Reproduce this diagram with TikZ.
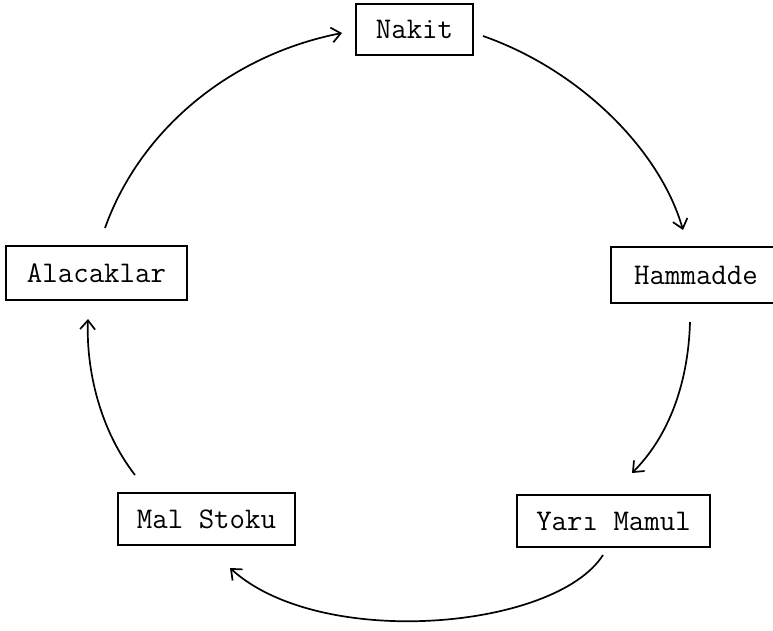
\documentclass[tikz,border=0pt]{standalone}
\usetikzlibrary{arrows.meta}
\tikzset{
  box/.style={draw, line width=1.8pt, rectangle, inner sep=0pt,
    font=\ttfamily\fontsize{30}{34}\selectfont},
  flow/.style={line width=1.7pt, -{Straight Barb[length=9pt,width=15pt,line width=1.7pt]}}
}
\begin{document}
\begin{tikzpicture}[x=1pt,y=-1pt]
\useasboundingbox[fill=white] (0,0) rectangle (773,631);
\node[box, minimum width=117pt, minimum height=51pt] (nakit) at (414.5,29.5) {Nakit};
\node[box, draw=none, minimum width=184pt, minimum height=54pt] (ham) at (704,275) {\hspace*{-16pt}Hammadde};
\draw[line width=1.8pt] (ham.north east) -- (ham.north west) -- (ham.south west) -- (ham.south east);
\node[box, minimum width=181pt, minimum height=54pt] (alac) at (96.5,273) {Alacaklar};
\node[box, minimum width=177pt, minimum height=52pt] (mal) at (206.5,519) {Mal Stoku};
\node[box, minimum width=193pt, minimum height=52pt] (yari) at (613.5,521) {Yarı Mamul};
% connector end points
\coordinate (a1) at (105,228);  \coordinate (a2) at (342,33);
\coordinate (b1) at (483,36);   \coordinate (b2) at (683,230);
\coordinate (c1) at (690,322);  \coordinate (c2) at (632,473);
\coordinate (d1) at (603,555);  \coordinate (d2) at (230,568);
\coordinate (e1) at (135,475);  \coordinate (e2) at (88,319);
\draw[flow] (a1) .. controls (140,130) and (230,55) .. (a2);
\draw[flow] (b1) .. controls (580,70) and (660,150) .. (b2);
\draw[flow] (c1) .. controls (688,390) and (665,440) .. (c2);
\draw[flow] (d1) .. controls (555,630) and (320,650) .. (d2);
\draw[flow] (e1) .. controls (100,430) and (86,370) .. (e2);
\end{tikzpicture}
\end{document}
